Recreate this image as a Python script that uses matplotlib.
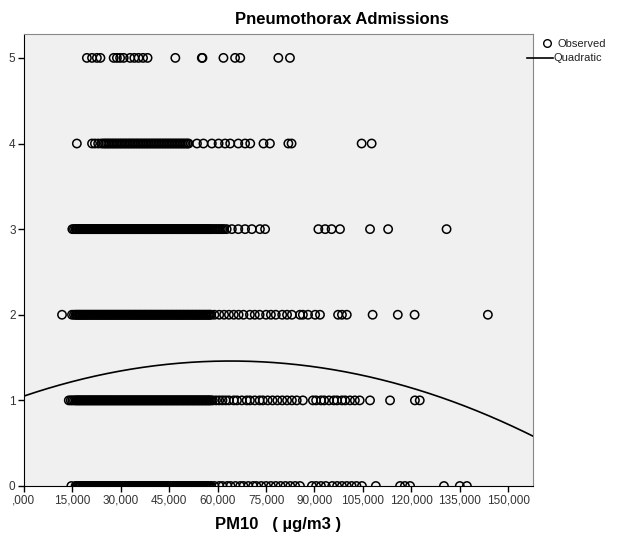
import numpy as np
import matplotlib
matplotlib.use('Agg')
import matplotlib.pyplot as plt
from matplotlib.lines import Line2D
from matplotlib.ticker import FuncFormatter

plt.rcParams['font.family'] = ['Liberation Sans', 'DejaVu Sans']

# PM10 levels (ug/m3) of the busy range, seen at every count from 0 to 3
busy_range = [16.0, 16.3, 16.6, 17.0, 17.3, 17.6, 18.0, 18.3, 18.6, 19.0,
              19.3, 19.6, 20.0, 20.3, 20.6, 21.0, 21.3, 21.6, 22.0, 22.3,
              22.6, 23.0, 23.3, 23.6, 24.0, 24.3, 24.6, 25.0, 25.3, 25.6,
              26.0, 26.3, 26.6, 27.0, 27.3, 27.6, 28.0, 28.3, 28.6, 29.0,
              29.3, 29.6, 30.0, 30.3, 30.6, 31.0, 31.3, 31.6, 32.0, 32.3,
              32.6, 33.0, 33.3, 33.6, 34.0, 34.3, 34.6, 35.0, 35.3, 35.6,
              36.0, 36.3, 36.6, 37.0, 37.3, 37.6, 38.0, 38.3, 38.6, 39.0,
              39.3, 39.6, 40.0, 40.3, 40.6, 41.0, 41.3, 41.6, 42.0, 42.3,
              42.6, 43.0, 43.3, 43.6, 44.0, 44.3, 44.6, 45.0, 45.3, 45.6,
              46.0, 46.3, 46.6, 47.0, 47.3, 47.6, 48.0, 48.3, 48.6, 49.0,
              49.3, 49.6, 50.0, 50.3, 50.6, 51.0, 51.3, 51.6, 52.0, 52.3,
              52.6, 53.0, 53.3, 53.6, 54.0, 54.3, 54.6, 55.0, 55.3, 55.6,
              56.0, 56.3, 56.6, 57.0, 57.3, 57.6, 58.0]

# observed PM10 per admission count
pm10_0 = [14.7] + busy_range + [59, 60.5, 61.5, 63, 64, 65.5, 67, 68, 69.5, 71,
          72, 73.5, 75, 76.5, 78, 79.5, 81, 82.5, 84, 85.5, 89.2, 90.5, 92,
          93.5, 95.5, 97, 98.5, 100, 101.5, 103, 104.7, 109.0, 116.5, 118,
          119.6, 130.1, 135.0, 137.2]
pm10_1 = [13.9, 14.5, 15.0, 15.5] + busy_range + [58.5, 59.5, 60.5, 61.5, 62.5,
          63.5, 65, 66, 67.5, 69, 70, 71.5, 73, 74, 75.5, 77, 78.5, 80, 81.5,
          83, 84.5, 86.4, 89.5, 90.5, 92, 93, 94.5, 96, 97, 98.5, 99.5, 101,
          102.5, 104, 107.2, 113.4, 121.1, 122.6]
pm10_2 = [11.8, 14.9, 15.5] + busy_range + [59, 60.5, 62, 63.5, 65, 66.5, 68,
          70, 71.5, 73, 75, 76.5, 78, 80, 81.5, 83, 85.5, 86.4, 88, 90.2, 91.7,
          97.3, 98.5, 100, 108, 115.8, 121, 143.7]
pm10_3 = [15.0, 15.5] + busy_range + [58.5, 59.0, 59.5, 60.0, 60.5, 61.0, 61.5,
          62.0, 62.8, 64.4, 66.4, 68.5, 70.6, 73.1, 74.7, 91.2, 93.3, 95.3,
          97.9, 107.2, 112.8, 130.9]
pm10_4 = [16.4, 21.1, 22.0, 23.0, 24.0, 24.6, 25.1, 25.6, 26.1, 26.6, 27.1,
          27.6, 28.1, 28.6, 29.1, 29.6, 30.1, 30.6, 31.1, 31.6, 32.1, 32.6,
          33.1, 33.6, 34.1, 34.6, 35.1, 35.6, 36.1, 36.6, 37.1, 37.6, 38.1,
          38.6, 39.1, 39.6, 40.1, 40.6, 41.1, 41.6, 42.1, 42.6, 43.1, 43.6,
          44.1, 44.6, 45.1, 45.6, 46.1, 46.6, 47.1, 47.6, 48.1, 48.6, 49.1,
          49.6, 50.1, 50.6, 51.0,
          53.6, 55.6, 58.2, 60.3, 62.3, 63.9, 66.4, 68.5, 70.1, 74.2, 76.2,
          81.9, 82.9, 104.6, 107.7]
pm10_5 = [19.5, 21.1, 22.6, 23.7, 27.8, 28.8, 29.8, 30.9, 32.9, 34.2, 35.5,
          36.9, 38.3, 46.9, 55.1, 55.3, 61.8, 65.4, 67.0, 78.8, 82.4]

observed = [pm10_0, pm10_1, pm10_2, pm10_3, pm10_4, pm10_5]
counts = [0, 1, 2, 3, 4, 5]

# quadratic fit: admissions = b0 + b1*x + b2*x^2
b0, b1, b2 = 1.05, 0.0128, -0.0001

x_ticks = [0, 15, 30, 45, 60, 75, 90, 105, 120, 135, 150]


def spss_fmt(v, pos=None):
    s = f"{v:.3f}".replace('.', ',')
    if s.startswith('0,'):
        s = s[1:]
    return s


fig = plt.figure(figsize=(6.29, 5.35), dpi=100)
ax = fig.add_axes([0.038, 0.0916, 0.809, 0.845])
ax.set_facecolor('#f0f0f0')

for c, xs in zip(counts, observed):
    ax.scatter(xs, [c] * len(xs), s=36, facecolors='none',
               edgecolors='black', linewidths=1.1, zorder=3)

xmax = 157.6
xx = np.linspace(0, xmax, 300)
ax.plot(xx, b0 + b1 * xx + b2 * xx ** 2, color='black', lw=1.2, zorder=4)

ax.set_xlim(0, xmax)
ax.set_ylim(0, 5.28)
ax.set_xticks(x_ticks)
ax.xaxis.set_major_formatter(FuncFormatter(spss_fmt))
ax.set_yticks(counts)
ax.tick_params(direction='out', length=4, width=1, labelsize=8.5,
               labelcolor='#333333', pad=2)

for side in ['top', 'right']:
    ax.spines[side].set_color('#888888')
for side in ['left', 'bottom']:
    ax.spines[side].set_color('black')

ax.set_xlabel('PM10   ( µg/m3 )', fontsize=12, fontweight='bold', labelpad=8)
fig.text(342 / 629, 1 - 20 / 535, 'Pneumothorax Admissions', fontsize=12,
         fontweight='bold', ha='center', va='center')

# legend outside the plot, top right
fig.add_artist(Line2D([547 / 629], [1 - 43 / 535], marker='o', ms=5.5,
                      mfc='none', mec='black', mew=1.0, ls='none'))
fig.text(557 / 629, 1 - 44 / 535, 'Observed', fontsize=8, va='center',
         color='#222222')
fig.add_artist(Line2D([527 / 629, 553 / 629], [1 - 58 / 535, 1 - 58 / 535],
                      color='black', lw=1.2))
fig.text(554 / 629, 1 - 58 / 535, 'Quadratic', fontsize=8, va='center',
         color='#222222')

fig.savefig('out.png', dpi=100)
